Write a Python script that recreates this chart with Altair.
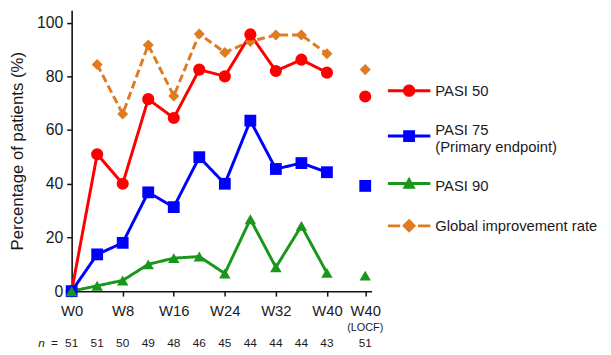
import altair as alt
import pandas as pd

SERIES = ["PASI 50", "PASI 75", "PASI 90", "Global improvement rate"]
COLORS = ["#ff0000", "#0000ff", "#1a961a", "#e07b22"]
WEEKS = [0, 4, 8, 12, 16, 20, 24, 28, 32, 36, 40, 46]  # 46 = W40 (LOCF)
pasi50 = [0, 51.0, 40.0, 71.5, 64.5, 82.5, 80.0, 95.6, 82.0, 86.2, 81.4, 72.5]
pasi75 = [0, 13.7, 18.0, 36.8, 31.3, 49.9, 40.0, 63.5, 45.5, 47.7, 44.3, 39.2]
pasi90 = [0, 2.0, 4.0, 10.0, 12.3, 12.9, 6.6, 26.8, 8.9, 24.3, 6.8, 5.8]
global_rate = [None, 84.4, 66.0, 91.7, 72.7, 95.8, 88.9, 93.0, 95.4, 95.4, 88.4, 82.5]
n_vals = [51, 51, 50, 49, 48, 46, 45, 44, 44, 44, 43, 51]
X_TICKS = [0, 8, 16, 24, 32, 40, 46]
Y_TICKS = [0, 20, 40, 60, 80, 100]

FONT = "Liberation Sans"
TXT = "#1a1a1a"

rows = []
for name, vals in [("Global improvement rate", global_rate), ("PASI 50", pasi50),
                   ("PASI 75", pasi75), ("PASI 90", pasi90)]:
    for w, v in zip(WEEKS, vals):
        if v is not None:
            rows.append({"series": name, "week": w, "pct": v})
df = pd.DataFrame(rows)

n_df = pd.DataFrame({"week": WEEKS, "n": n_vals})

W, H = 304, 284.7
x_scale = alt.Scale(domain=[0, 47], nice=False, zero=False)
y_scale = alt.Scale(domain=[0, 104.6], nice=False)
color_scale = alt.Scale(domain=SERIES, range=COLORS)

x_enc = alt.X("week:Q", scale=x_scale, axis=alt.Axis(
    values=X_TICKS, labelExpr="datum.value == 46 ? 'W40' : 'W' + datum.value",
    title=None, grid=False, tickSize=5, labelPadding=8, labelFontSize=15,
    labelFont=FONT, labelColor=TXT, domainColor="#111", tickColor="#111",
    domainWidth=1.6, tickWidth=1.5, labelFlush=False))
y_enc = alt.Y("pct:Q", scale=y_scale, axis=alt.Axis(
    values=Y_TICKS, title="Percentage of patients (%)", grid=False, tickSize=5,
    labelPadding=4, labelFontSize=16, labelFont=FONT, labelColor=TXT,
    titleFont=FONT, titleFontSize=17, titleFontWeight="normal", titleColor=TXT,
    titleX=-54.5, titleBaseline="middle", titleAlign="center",
    domainColor="#111", tickColor="#111", domainWidth=1.6, tickWidth=1.5))

base = alt.Chart(df)

lines = base.transform_filter("datum.week <= 40").mark_line(strokeWidth=3).encode(
    x=x_enc, y=y_enc,
    color=alt.Color("series:N", scale=color_scale, legend=None),
    strokeDash=alt.StrokeDash("series:N", scale=alt.Scale(
        domain=SERIES, range=[[1, 0], [1, 0], [1, 0], [8, 4]]), legend=None),
    detail="series:N",
)

points = base.mark_point(filled=True, opacity=1, strokeWidth=0).encode(
    x="week:Q", y="pct:Q",
    color=alt.Color("series:N", scale=color_scale, legend=None),
    shape=alt.Shape("series:N", scale=alt.Scale(
        domain=SERIES, range=["circle", "square", "triangle-up", "diamond"]), legend=None),
    size=alt.Size("series:N", scale=alt.Scale(domain=SERIES, range=[152, 125, 180, 165]), legend=None),
)


# legend symbols: line + marker, drawn in unit coordinates (with a small vertical shift d)
def f(v):
    return f"{v:.3f}"


def rect(x0, x1, d):
    return f"M{f(x0)},{f(d - 0.07)} H{f(x1)} V{f(d + 0.07)} H{f(x0)} Z "


def circle_path(d):
    r = 0.29
    return rect(-1, 1, d) + (f"M{f(-r)},{f(d)} A{r},{r} 0 1,1 {f(r)},{f(d)} "
                             f"A{r},{r} 0 1,1 {f(-r)},{f(d)} Z")


def square_path(d):
    s = 0.28
    return rect(-1, 1, d) + f"M{f(-s)},{f(d - s)} H{f(s)} V{f(d + s)} H{f(-s)} Z"


def tri_path(d):
    return rect(-1, 1, d) + f"M0,{f(d - 0.31)} L0.31,{f(d + 0.25)} L-0.31,{f(d + 0.25)} Z"


def diam_path(d):
    return (rect(-1, -0.42, d) + rect(0.42, 1, d) +
            f"M0,{f(d - 0.33)} L0.33,{f(d)} L0,{f(d + 0.33)} L-0.33,{f(d)} Z")


LEGEND_SHAPES = [circle_path(0.0), square_path(0.28), tri_path(-0.14), diam_path(0.0)]

leg = dict(
    title=None, orient="none", legendX=320.5, legendY=60, symbolSize=1849,
    symbolStrokeWidth=0, symbolOpacity=1, labelFont=FONT, labelFontSize=15,
    labelColor=TXT, labelOffset=5, labelLimit=400, rowPadding=10,
    labelExpr="datum.label == 'PASI 75' ? ['PASI 75', '(Primary endpoint)'] : datum.label")

legend_layer = base.transform_filter("false").mark_point(filled=True, opacity=1).encode(
    x="week:Q", y="pct:Q",
    color=alt.Color("series:N", scale=color_scale, legend=alt.Legend(**leg)),
    shape=alt.Shape("series:N", scale=alt.Scale(domain=SERIES, range=LEGEND_SHAPES),
                    legend=alt.Legend(**leg)),
)

NY = 337
n_text = alt.Chart(n_df).mark_text(fontSize=12, font=FONT, color=TXT, baseline="middle").encode(
    x="week:Q", y=alt.value(NY), text="n:Q")

locf_text = alt.Chart(pd.DataFrame({"week": [46], "t": ["(LOCF)"]})).mark_text(
    fontSize=11, font=FONT, color=TXT, baseline="middle").encode(
    x="week:Q", y=alt.value(322), text="t:N")

n_label = alt.Chart(pd.DataFrame({"t": ["n"]})).mark_text(
    fontSize=12, font=FONT, color=TXT, fontStyle="italic", baseline="middle").encode(
    x=alt.value(-30.5), y=alt.value(NY), text="t:N")
eq_label = alt.Chart(pd.DataFrame({"t": ["="]})).mark_text(
    fontSize=12, font=FONT, color=TXT, baseline="middle").encode(
    x=alt.value(-17.5), y=alt.value(NY), text="t:N")

chart = alt.layer(lines, points, legend_layer, n_text, locf_text, n_label, eq_label).resolve_scale(
    color="independent", shape="independent"
).properties(
    width=W, height=H,
    autosize=alt.AutoSizeParams(type="none"),
    padding={"left": 64.5, "top": 0, "right": 234.5, "bottom": 58},
).configure_view(stroke=None)

chart.save("out.html", embed_options={"renderer": "svg", "actions": False})
